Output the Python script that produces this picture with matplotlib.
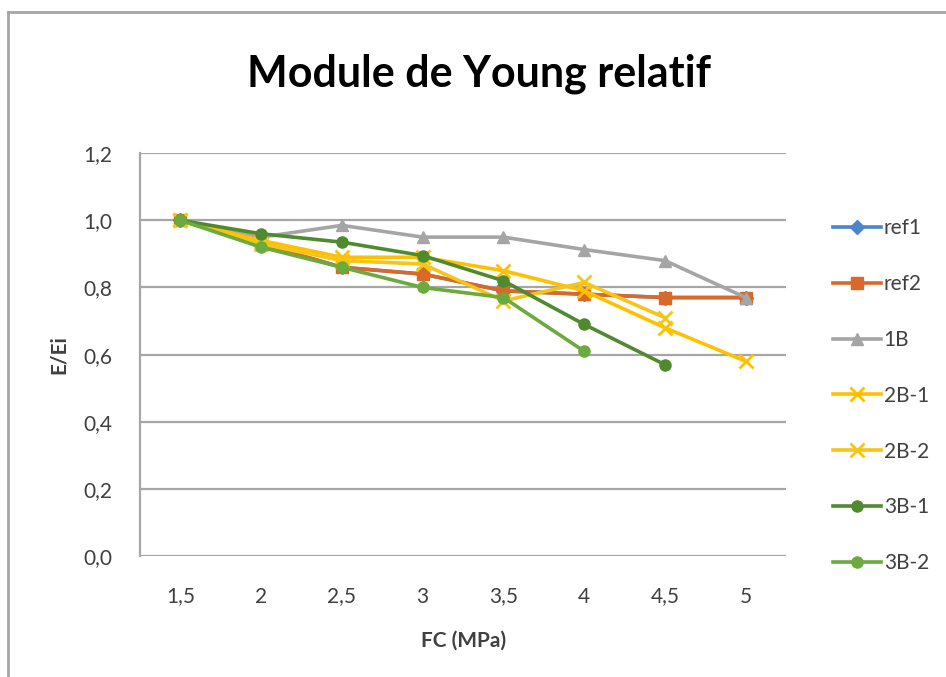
import matplotlib.pyplot as plt
from matplotlib.lines import Line2D

# FC values (MPa) and relative Young's modulus E/Ei per specimen
fc_labels = ['1,5', '2', '2,5', '3', '3,5', '4', '4,5', '5']
ref1 = [1.00, 0.93, 0.86, 0.84, 0.79, 0.78, 0.77, 0.77]
ref2 = [1.00, 0.93, 0.86, 0.84, 0.79, 0.78, 0.77, 0.77]
b1 = [1.00, 0.95, 0.985, 0.95, 0.95, 0.913, 0.88, 0.77]
b2_1 = [1.00, 0.94, 0.89, 0.89, 0.85, 0.79, 0.68, 0.58]
b2_2 = [1.00, 0.93, 0.88, 0.87, 0.76, 0.815, 0.71]
b3_1 = [1.00, 0.96, 0.935, 0.895, 0.82, 0.69, 0.57]
b3_2 = [1.00, 0.92, 0.86, 0.80, 0.77, 0.61]

series = [
    ('ref1', ref1, '#4A86C8', 'D', 7),
    ('ref2', ref2, '#D9692B', 's', 8),
    ('1B', b1, '#A5A5A5', '^', 9),
    ('2B-1', b2_1, '#FFC000', 'x', 10),
    ('2B-2', b2_2, '#F5C518', 'x', 10),
    ('3B-1', b3_1, '#4F8A2E', 'o', 8),
    ('3B-2', b3_2, '#6BAA3C', 'o', 8),
]

plt.rcParams['font.family'] = ['Lato', 'DejaVu Sans']

fig = plt.figure(figsize=(9.46, 6.77), dpi=100)
ax = fig.add_axes([0.148, 0.1787, 0.683, 0.595])

for name, vals, color, marker, ms in series:
    ax.plot(range(len(vals)), vals, color=color, marker=marker, markersize=ms,
            markeredgewidth=2 if marker == 'x' else 1, linewidth=2.6, label=name)

ax.set_xlim(-0.5, len(fc_labels) - 0.5)
ax.set_ylim(0, 1.2)
ax.set_xticks(range(len(fc_labels)))
ax.set_xticklabels(fc_labels)
ax.set_yticks([0, 0.2, 0.4, 0.6, 0.8, 1.0, 1.2])
ax.set_yticklabels(['0,0', '0,2', '0,4', '0,6', '0,8', '1,0', '1,2'])
ax.tick_params(axis='both', length=0, labelsize=15, colors='#404040')
ax.tick_params(axis='x', pad=22)
ax.tick_params(axis='y', pad=20)

ax.grid(axis='y', color='#A6A6A6', linewidth=1.6)
ax.set_axisbelow(True)
for side in ['top', 'right', 'bottom']:
    ax.spines[side].set_visible(False)
ax.spines['left'].set_color('#A6A6A6')
ax.spines['left'].set_linewidth(1.6)

ax.set_title('Module de Young relatif', fontsize=31, fontweight='bold', pad=48, x=0.525)
ax.set_xlabel('FC (MPa)', fontsize=15, fontweight='bold', color='#404040', labelpad=17)
ax.set_ylabel('E/Ei', fontsize=15, fontweight='bold', color='#404040', labelpad=10)

leg = ax.legend(loc='upper left', bbox_to_anchor=(1.043, 0.885), frameon=False,
                fontsize=15, labelspacing=1.72, handlelength=2.3, handletextpad=0.15,
                labelcolor='#404040')

# chart border
fig.add_artist(Line2D([8 / 946, 8 / 946], [0, 1 - 12 / 677], color='#A6A6A6', linewidth=2))
fig.add_artist(Line2D([8 / 946, 1], [1 - 12 / 677, 1 - 12 / 677], color='#A6A6A6', linewidth=2))

fig.savefig('out.png', dpi=100)
